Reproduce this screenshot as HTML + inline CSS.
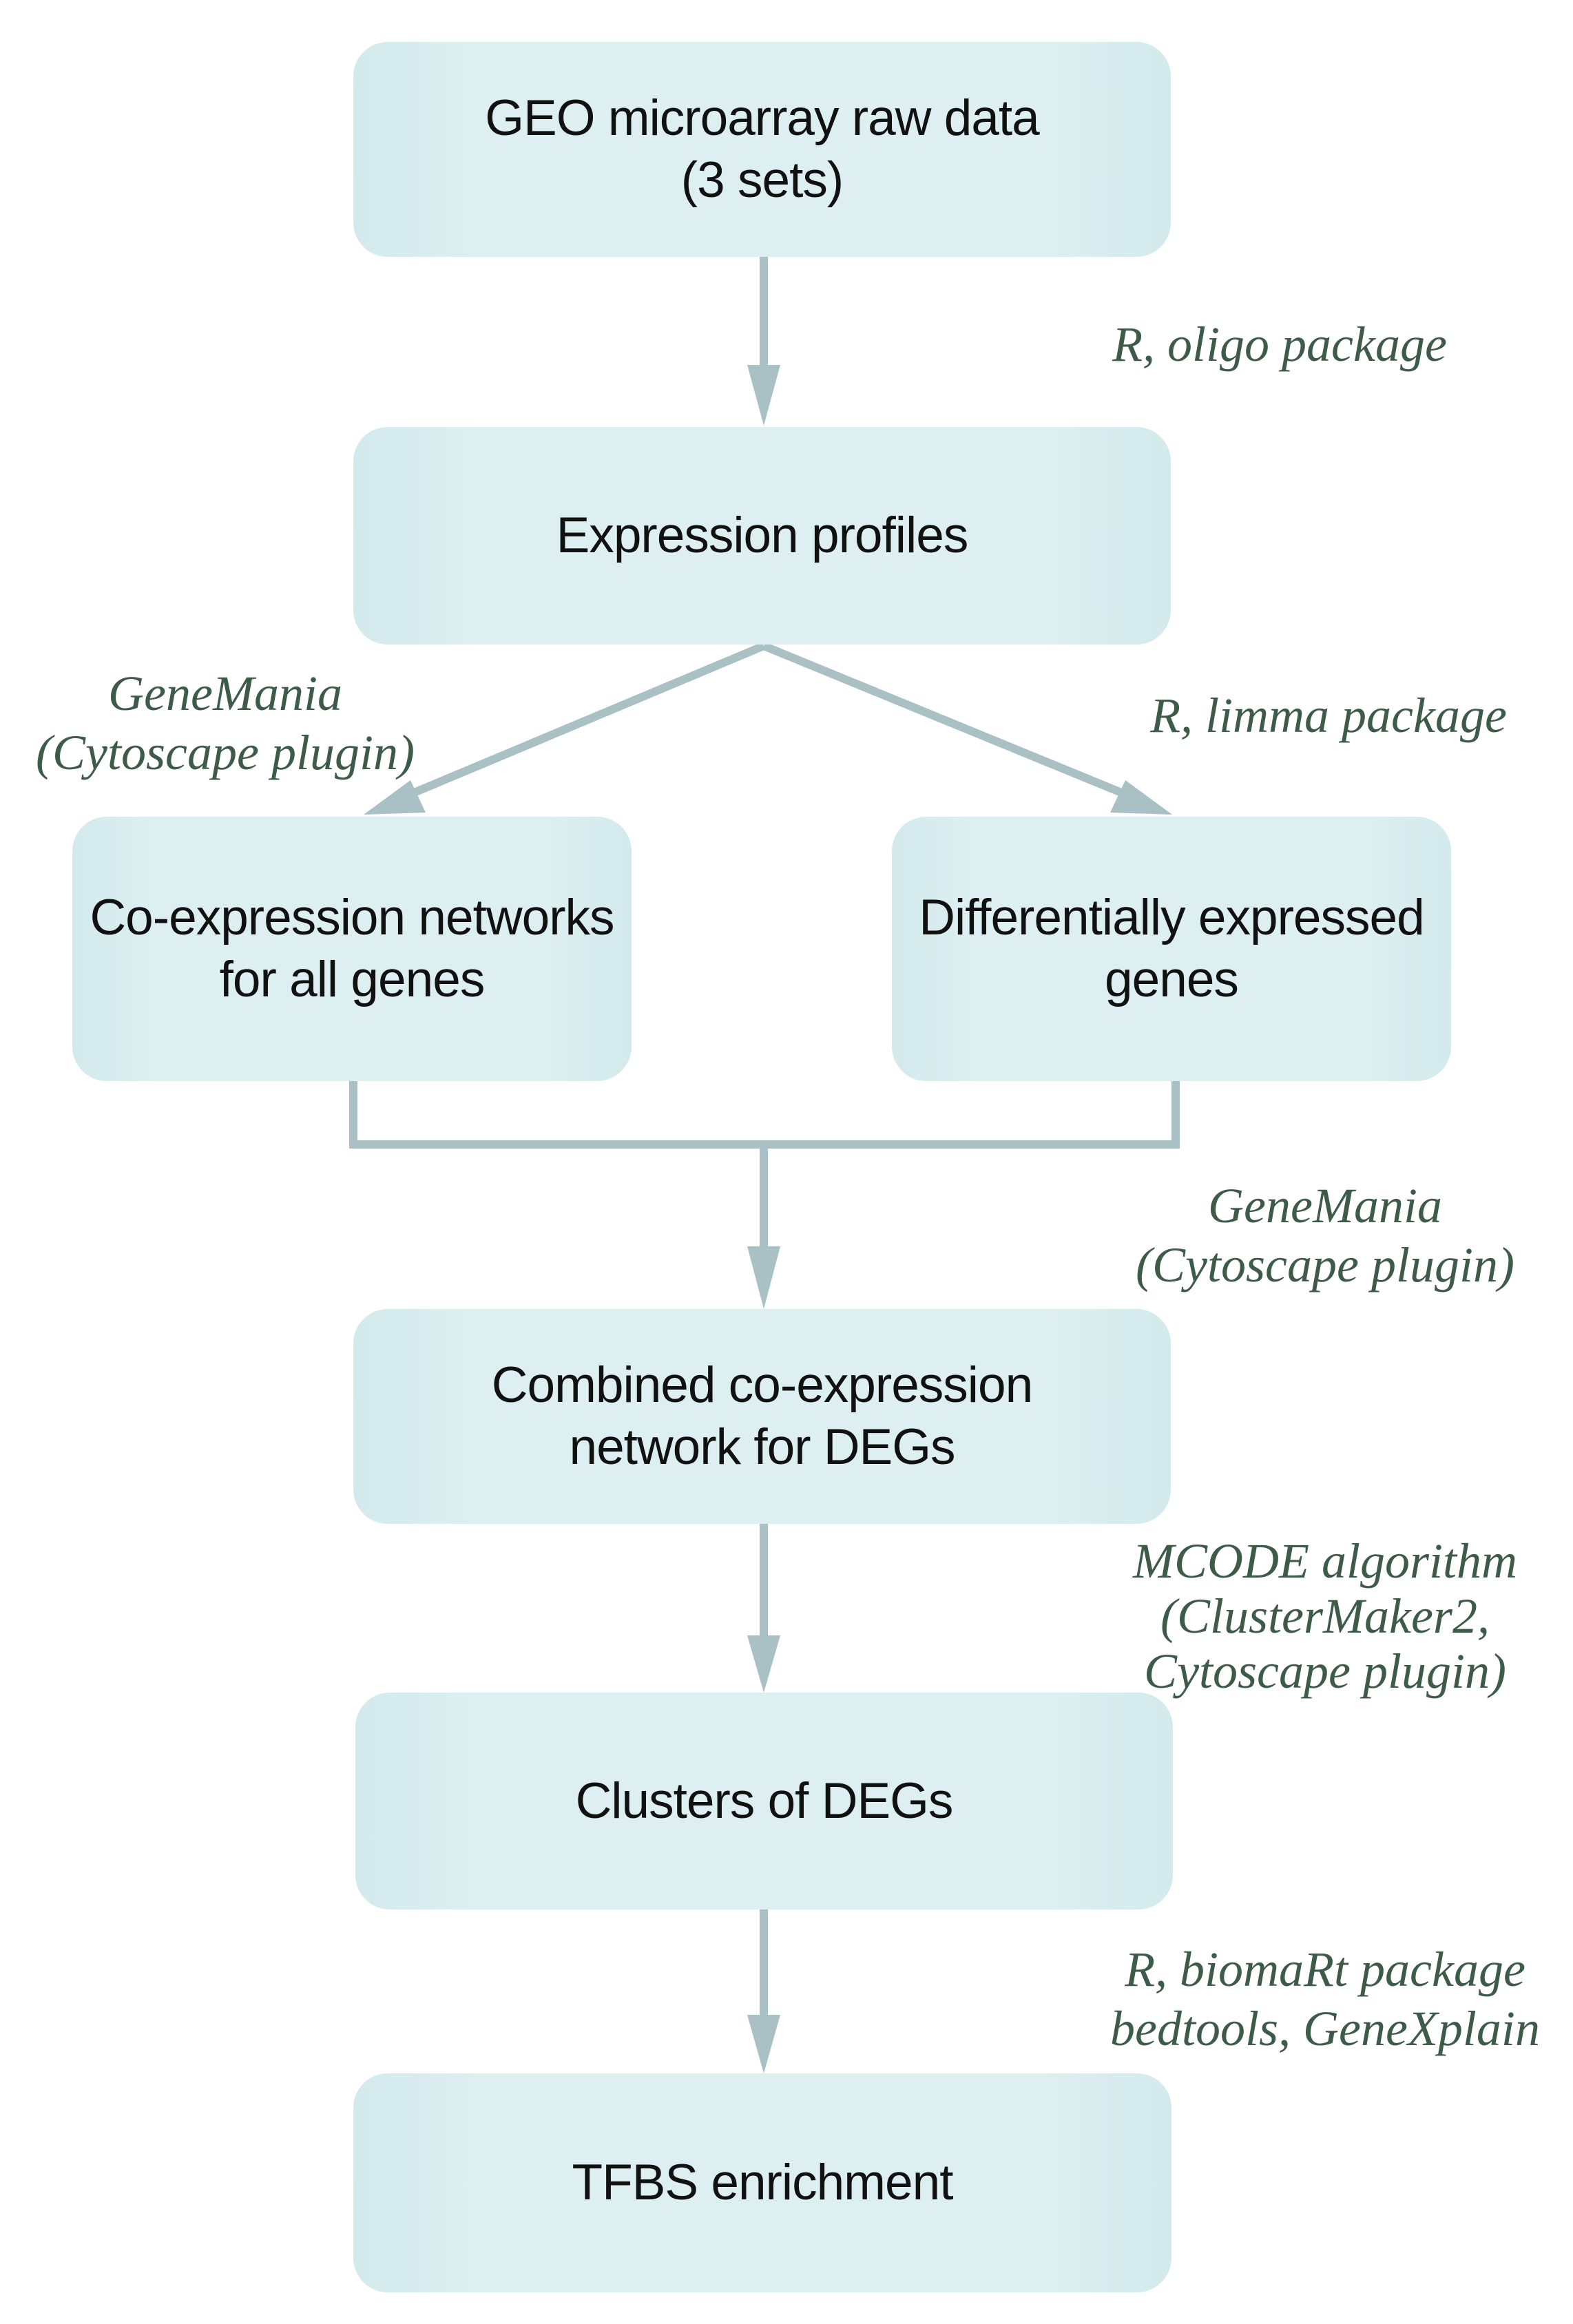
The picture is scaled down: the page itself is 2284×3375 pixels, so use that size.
<!DOCTYPE html>
<html><head><meta charset="utf-8"><style>
html,body{margin:0;padding:0;background:#fff;}
body{width:2284px;height:3375px;position:relative;overflow:hidden;}
.b{position:absolute;border-radius:50px;background:linear-gradient(90deg,#d3eaec 0%,#ddeff1 15%,#ddeff1 85%,#d3eaec 100%);display:flex;align-items:center;justify-content:center;text-align:center;font-family:"Liberation Sans",sans-serif;font-size:73px;line-height:90px;color:#111;letter-spacing:-1px;}
.l{position:absolute;font-family:"Liberation Serif",serif;font-style:italic;font-size:72px;line-height:86px;color:#3e5a49;text-align:center;white-space:nowrap;transform:translateX(-50%);}
svg{position:absolute;left:0;top:0;}
</style></head><body>
<svg width="2284" height="3375">
<g stroke="#a9c1c5" stroke-width="12" fill="none">
<line x1="1109" y1="373" x2="1109" y2="535"/>
<polyline points="1109,938 580,1160"/>
<polyline points="1109,938 1650,1160"/>
<polyline points="513,1570 513,1662 1707,1662 1707,1570"/>
<line x1="1109" y1="1662" x2="1109" y2="1815"/>
<line x1="1109" y1="2213" x2="1109" y2="2380"/>
<line x1="1109" y1="2773" x2="1109" y2="2931"/>
</g>
<g fill="#a9c1c5">
<polygon points="1085,530 1133,530 1109,618"/>
<polygon points="1085,1810 1133,1810 1109,1901"/>
<polygon points="1085,2375 1133,2375 1109,2458"/>
<polygon points="1085,2926 1133,2926 1109,3011"/>
<polygon points="528,1183 618,1180 596,1133"/>
<polygon points="1702,1183 1612,1180 1634,1133"/>
</g>
</svg>
<div class="b" style="left:513px;top:61px;width:1187px;height:312px;">GEO microarray raw data<br>(3 sets)</div>
<div class="b" style="left:513px;top:620px;width:1187px;height:316px;">Expression profiles</div>
<div class="b" style="left:105px;top:1186px;width:812px;height:384px;">Co-expression networks<br>for all genes</div>
<div class="b" style="left:1295px;top:1186px;width:812px;height:384px;">Differentially expressed<br>genes</div>
<div class="b" style="left:513px;top:1901px;width:1187px;height:312px;">Combined co-expression<br>network for DEGs</div>
<div class="b" style="left:516px;top:2458px;width:1187px;height:315px;">Clusters of DEGs</div>
<div class="b" style="left:513px;top:3011px;width:1188px;height:318px;">TFBS enrichment</div>
<div class="l" style="left:1858px;top:457px;">R, oligo package</div>
<div class="l" style="left:327px;top:964px;">GeneMania<br>(Cytoscape plugin)</div>
<div class="l" style="left:1929px;top:996px;">R, limma package</div>
<div class="l" style="left:1924px;top:1708px;">GeneMania<br>(Cytoscape plugin)</div>
<div class="l" style="left:1924px;top:2227px;line-height:80px;">MCODE algorithm<br>(ClusterMaker2,<br>Cytoscape plugin)</div>
<div class="l" style="left:1924px;top:2817px;">R, biomaRt package<br>bedtools, GeneXplain</div>
</body></html>
